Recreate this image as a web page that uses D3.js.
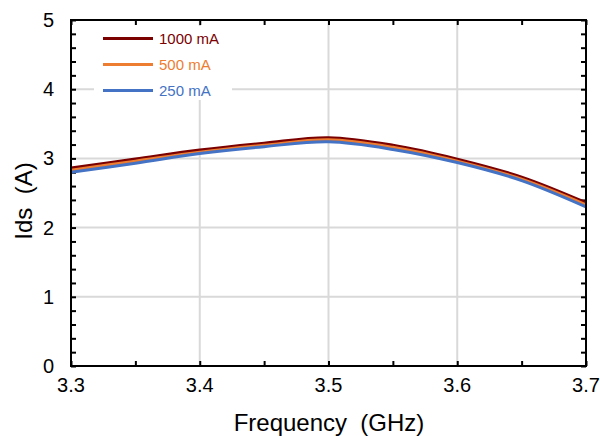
<!DOCTYPE html>
<html><head><meta charset="utf-8">
<script src="https://cdn.jsdelivr.net/npm/d3@7"></script>
<style>body{margin:0;background:#fff}svg{display:block}text{font-family:"Liberation Sans",Arial,sans-serif}</style>
</head><body><svg id="c" width="600" height="436"></svg>
<script>
const freq = [3.30, 3.35, 3.40, 3.45, 3.50, 3.55, 3.60, 3.65, 3.70];
const ids1000 = [2.86, 2.99, 3.12, 3.22, 3.30, 3.19, 2.99, 2.73, 2.36];
const ids500  = [2.83, 2.96, 3.09, 3.19, 3.27, 3.16, 2.96, 2.70, 2.33];
const ids250  = [2.80, 2.93, 3.07, 3.17, 3.24, 3.13, 2.94, 2.68, 2.30];
const seriesNames = ["1000 mA", "500 mA", "250 mA"];
const seriesColors = ["#7b0000", "#ed7d31", "#4472c4"];
const xTicks = [3.3, 3.4, 3.5, 3.6, 3.7];
const yTicks = [0, 1, 2, 3, 4, 5];

const svg = d3.select("#c");
const L = 71, R = 586, T = 20, B = 366;
const x = d3.scaleLinear().domain([3.3, 3.7]).range([L, R]);
const y = d3.scaleLinear().domain([0, 5]).range([B, T]);

// gridlines
const g = svg.append("g");
g.selectAll(".gx").data(xTicks.slice(1, -1)).enter().append("line")
  .attr("x1", d => x(d)).attr("x2", d => x(d)).attr("y1", T).attr("y2", B)
  .attr("stroke", "#d9d9d9").attr("stroke-width", 2);
g.selectAll(".gy").data(yTicks.slice(1, -1)).enter().append("line")
  .attr("y1", d => y(d)).attr("y2", d => y(d)).attr("x1", L).attr("x2", R)
  .attr("stroke", "#d9d9d9").attr("stroke-width", 2);

// ticks (inward, all sides)
const xMinor = d3.range(0, 9).map(i => 3.3 + i * 0.05);
const yMinor = d3.range(0, 26).map(i => i * 0.2);
const tickLen = 5;
const axB = d3.axisBottom(x).tickValues(xMinor).tickSize(-tickLen).tickFormat("");
const axT = d3.axisTop(x).tickValues(xMinor).tickSize(-tickLen).tickFormat("");
const axL = d3.axisLeft(y).tickValues(yMinor).tickSize(-tickLen).tickFormat("");
const axR = d3.axisRight(y).tickValues(yMinor).tickSize(-tickLen).tickFormat("");
[[axB, `translate(0,${B})`], [axT, `translate(0,${T})`], [axL, `translate(${L},0)`], [axR, `translate(${R},0)`]]
  .forEach(([ax, tr]) => {
    const a = svg.append("g").attr("transform", tr).call(ax);
    a.select(".domain").remove();
    a.selectAll("line").attr("stroke", "#000").attr("stroke-width", 2);
  });

// tick labels
svg.selectAll(".xl").data(xTicks).enter().append("text")
  .attr("x", d => x(d)).attr("y", 392).attr("text-anchor", "middle")
  .attr("font-size", 20).attr("fill", "#000").text(d => d.toFixed(1));
svg.selectAll(".yl").data(yTicks).enter().append("text")
  .attr("x", 54).attr("y", d => y(d) + 7).attr("text-anchor", "end")
  .attr("font-size", 20).attr("fill", "#000").text(d => d);

// lines
const line = d3.line().x((d, i) => x(freq[i])).y(d => y(d)).curve(d3.curveCatmullRom.alpha(0.5));
const data = [ids1000, ids500, ids250];
data.forEach((s, k) => {
  svg.append("path").datum(s).attr("d", line).attr("fill", "none")
    .attr("stroke", seriesColors[k]).attr("stroke-width", 3);
});

// frame
svg.append("rect").attr("x", L).attr("y", T).attr("width", R - L).attr("height", B - T)
  .attr("fill", "none").attr("stroke", "#000").attr("stroke-width", 2);

// legend
const lg = svg.append("g");
lg.append("rect").attr("x", 94).attr("y", 26).attr("width", 138).attr("height", 74).attr("fill", "#fff");
seriesNames.forEach((n, k) => {
  const yy = 38.5 + k * 26;
  lg.append("line").attr("x1", 103).attr("x2", 153).attr("y1", yy).attr("y2", yy)
    .attr("stroke", seriesColors[k]).attr("stroke-width", 3);
  lg.append("text").attr("x", 159).attr("y", yy + 5.5).attr("font-size", 15)
    .attr("fill", seriesColors[k]).text(n);
});

// axis titles
svg.append("text").attr("x", 329).attr("y", 431).attr("text-anchor", "middle")
  .attr("font-size", 24).attr("fill", "#000").text("Frequency\u00a0\u00a0(GHz)");
svg.append("text").attr("transform", "translate(32,201) rotate(-90)").attr("text-anchor", "middle")
  .attr("font-size", 24).attr("fill", "#000").text("Ids\u00a0\u00a0(A)");
</script></body></html>
